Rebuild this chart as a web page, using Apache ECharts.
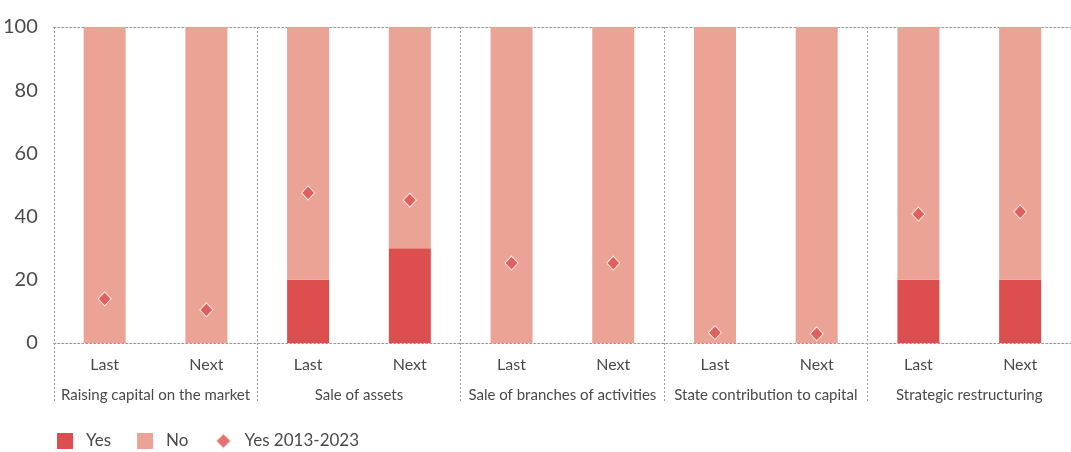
<!DOCTYPE html>
<html>
<head>
<meta charset="utf-8">
<script src="https://cdn.jsdelivr.net/npm/echarts@6/dist/echarts.min.js"></script>
<style>
  html, body { margin: 0; padding: 0; background: #fff; }
  #chart { width: 1071px; height: 452px; }
</style>
</head>
<body>
<div id="chart"></div>
<script>
// Data
const groups = ['Raising capital on the market', 'Sale of assets', 'Sale of branches of activities', 'State contribution to capital', 'Strategic restructuring']
const periods = ['Last', 'Next', 'Last', 'Next', 'Last', 'Next', 'Last', 'Next', 'Last', 'Next']
const yesValues = [0, 0, 20, 30, 0, 0, 0, 0, 20, 20]
const noValues = [100, 100, 80, 70, 100, 100, 100, 100, 80, 80]
const yes20132023 = [14, 10.5, 47.5, 45.2, 25.3, 25.3, 3.3, 2.9, 40.8, 41.5]

const colors = {
  yes: '#dd4f4f',
  no: '#eba395',
  text: '#4a4a4a',
  grid: '#9a9a9a'
}

const font = "Lato, 'DejaVu Sans Condensed', sans-serif"
const dotted = { color: colors.grid, type: [2, 2], width: 1 }

const chart = echarts.init(document.getElementById('chart'))

// grid runs a little past the right edge, as in the original
const option = {
  animation: false,
  textStyle: { fontFamily: font },
  grid: { left: 53, width: 1027, top: 27, bottom: 109, containLabel: false },
  legend: {
    left: 52,
    top: 427,
    itemWidth: 16,
    itemHeight: 16,
    itemGap: 26,
    textStyle: { fontFamily: font, fontSize: 17, color: colors.text, padding: [0, 0, 0, 8] },
    data: [
      { name: 'Yes', icon: 'rect' },
      { name: 'No', icon: 'rect' },
      { name: 'Yes 2013-2023', icon: 'diamond' }
    ]
  },
  xAxis: [
    {
      type: 'category',
      data: periods,
      position: 'bottom',
      axisLine: { lineStyle: dotted },
      axisTick: { show: false },
      axisLabel: { color: colors.text, fontSize: 16, margin: 14, interval: 0, fontFamily: font }
    },
    {
      type: 'category',
      data: groups,
      position: 'bottom',
      axisLine: { show: false },
      axisTick: { show: true, interval: 0, length: 60, lineStyle: dotted },
      axisLabel: { color: colors.text, fontSize: 15, margin: 45, interval: 0, fontFamily: font },
      splitLine: { show: true, interval: 0, lineStyle: dotted }
    },
    {
      type: 'category',
      data: groups,
      position: 'top',
      axisLine: { lineStyle: dotted },
      axisTick: { show: false },
      axisLabel: { show: false }
    }
  ],
  yAxis: {
    type: 'value',
    min: 0,
    max: 100,
    interval: 20,
    axisLine: { show: false },
    axisTick: { show: false },
    splitLine: { show: false },
    axisLabel: { color: colors.text, fontSize: 20, margin: 16, fontFamily: font }
  },
  series: [
    {
      name: 'Yes',
      type: 'bar',
      stack: 'total',
      xAxisIndex: 0,
      data: yesValues,
      barWidth: 42,
      itemStyle: { color: colors.yes }
    },
    {
      name: 'No',
      type: 'bar',
      stack: 'total',
      xAxisIndex: 0,
      data: noValues,
      barWidth: 42,
      itemStyle: { color: colors.no }
    },
    {
      name: 'Yes 2013-2023',
      type: 'scatter',
      xAxisIndex: 0,
      data: yes20132023,
      symbol: 'diamond',
      symbolSize: [13, 14],
      itemStyle: { color: colors.yes, borderColor: '#fff', borderWidth: 1 },
      z: 5
    }
  ]
}

chart.setOption(option)
</script>
</body>
</html>
